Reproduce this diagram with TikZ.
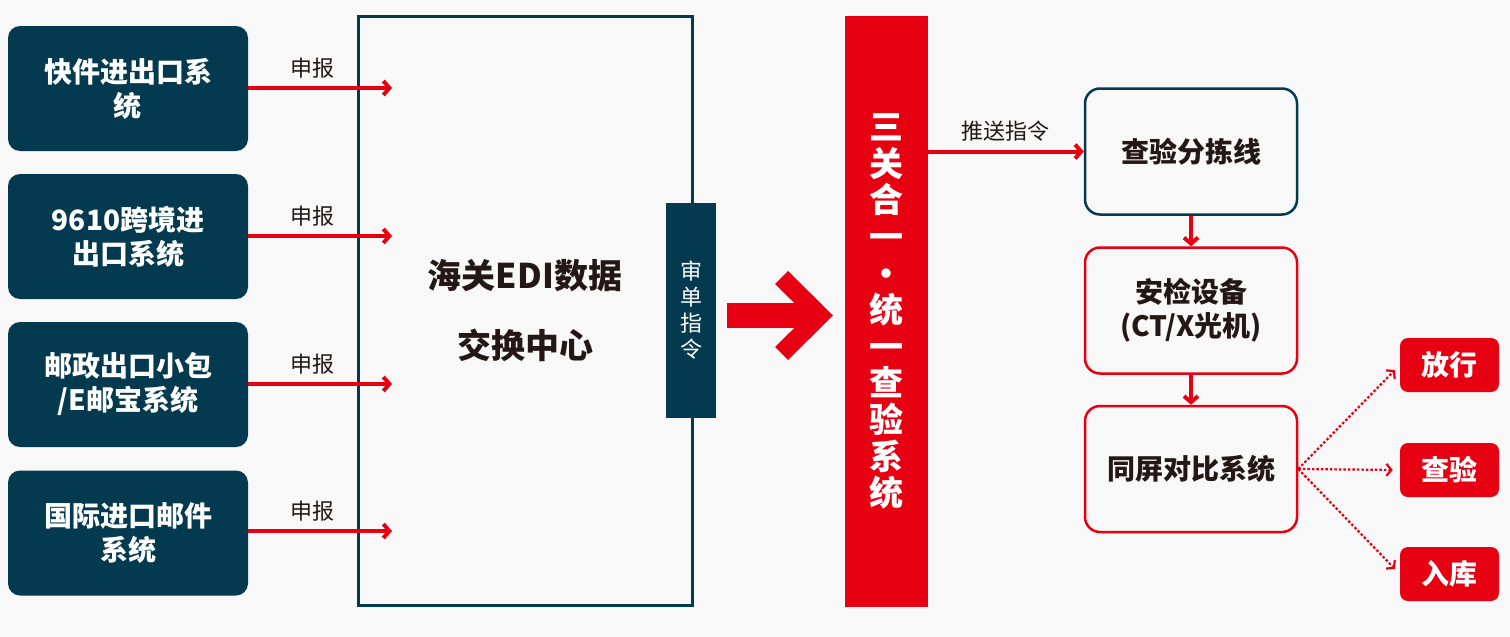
\documentclass[tikz,border=0pt]{standalone}
\usepackage{fontspec}
\setmainfont{Noto Sans CJK SC}
\usetikzlibrary{arrows.meta,positioning}
\definecolor{ediNavy}{HTML}{043A4F}
\definecolor{ediRed}{HTML}{E60012}
\definecolor{bgGray}{HTML}{F8F8F8}
\definecolor{txtDark}{HTML}{231815}
\tikzset{
	sysbox/.style={fill=ediNavy, text=white, rounded corners=12pt, minimum width=240pt, minimum height=125pt, inner sep=0pt, align=center, font=\fontsize{28}{34}\selectfont\bfseries},
	flowbox/.style={draw=ediRed, line width=2.5pt, fill=bgGray, text=txtDark, rounded corners=15pt, minimum width=212pt, minimum height=126pt, inner sep=0pt, align=center, font=\fontsize{28}{34}\selectfont\bfseries},
	resbox/.style={fill=ediRed, text=white, rounded corners=8pt, minimum width=99pt, minimum height=54pt, inner sep=0pt, font=\fontsize{28}{34}\selectfont\bfseries},
	redarrow/.style={ediRed, line width=4pt, -{Straight Barb[length=6pt,width=14pt]}},
	dotarrow/.style={ediRed, line width=2.2pt, dash pattern=on 2.5pt off 2pt, -{Straight Barb[length=5pt,width=12pt]}, shorten >=7pt},
	lbl/.style={text=txtDark, font=\fontsize{22}{26}\selectfont, inner sep=2pt}
}
\begin{document}
\begin{tikzpicture}[x=1pt,y=-1pt]
	\fill[bgGray] (0,0) rectangle (1510,637);
	\useasboundingbox (0,0) rectangle (1510,637);
	
	% declaring systems
	\node[sysbox] (kuaijian) at (128,88.5) {快件进出口系\\统};
	\node[sysbox] (kuajing) at (128,236.5) {9610跨境进\\出口系统};
	\node[sysbox] (youzheng) at (128,384.5) {邮政出口小包\\/E邮宝系统};
	\node[sysbox] (guoji) at (128,533) {国际进口邮件\\系统};
	
	% exchange centre
	\node[draw=ediNavy, line width=3pt, minimum width=334pt, minimum height=589pt, text=txtDark, align=center, font=\fontsize{34}{70}\selectfont\bfseries] (edi) at (525,310.5) {海关EDI数据\\交换中心};
	\node[fill=ediNavy, text=white, minimum width=50pt, minimum height=215pt, inner sep=0pt, align=center, font=\fontsize{22}{26}\selectfont] (shendan) at (691,310.5) {审\\单\\指\\令};
	
	\coordinate (in1) at (392,88);
	\coordinate (in2) at (392,236);
	\coordinate (in3) at (392,384);
	\coordinate (in4) at (392,531);
	\draw[redarrow] (kuaijian.east |- in1) -- (in1) node[lbl, pos=0.45, above=6pt] {申报};
	\draw[redarrow] (kuajing.east |- in2) -- (in2) node[lbl, pos=0.45, above=6pt] {申报};
	\draw[redarrow] (youzheng.east |- in3) -- (in3) node[lbl, pos=0.45, above=6pt] {申报};
	\draw[redarrow] (guoji.east |- in4) -- (in4) node[lbl, pos=0.45, above=6pt] {申报};
	
	% big arrow
	\fill[ediRed] (727,303) -- (815,303) -- (815,328) -- (727,328) -- cycle;
	\fill[ediRed] (788,271) -- (833,315.5) -- (788,360) -- (775,347) -- (807,315.5) -- (775,284) -- cycle;
	
	% unified inspection system
	\node[fill=ediRed, text=white, minimum width=83pt, minimum height=591pt, inner sep=0pt, align=center, font=\fontsize{34}{36.6}\selectfont\bfseries] (sanguan) at (886.5,311.5) {三\\关\\合\\一\\·\\统\\一\\查\\验\\系\\统};
	
	% inspection line
	\node[flowbox, draw=ediNavy] (fenjian) at (1191,151.5) {查验分拣线};
	\node[flowbox] (anjian) at (1191,310.5) {安检设备\\(CT/X光机)};
	\node[flowbox] (tongping) at (1191,469) {同屏对比系统};
	
	\draw[redarrow] (fenjian.west -| sanguan.east) -- (fenjian.west) node[lbl, midway, above=6pt] {推送指令};
	\draw[redarrow] (fenjian) -- (anjian);
	\draw[redarrow] (anjian) -- (tongping);
	
	% results
	\node[resbox] (fangxing) at (1449.5,365) {放行};
	\node[resbox] (chayan) at (1449.5,470) {查验};
	\node[resbox] (ruku) at (1449.5,574) {入库};
	
	\draw[dotarrow] (tongping.east) -- (fangxing.west);
	\draw[dotarrow] (tongping.east) -- (chayan.west);
	\draw[dotarrow] (tongping.east) -- (ruku.west);
\end{tikzpicture}
\end{document}
